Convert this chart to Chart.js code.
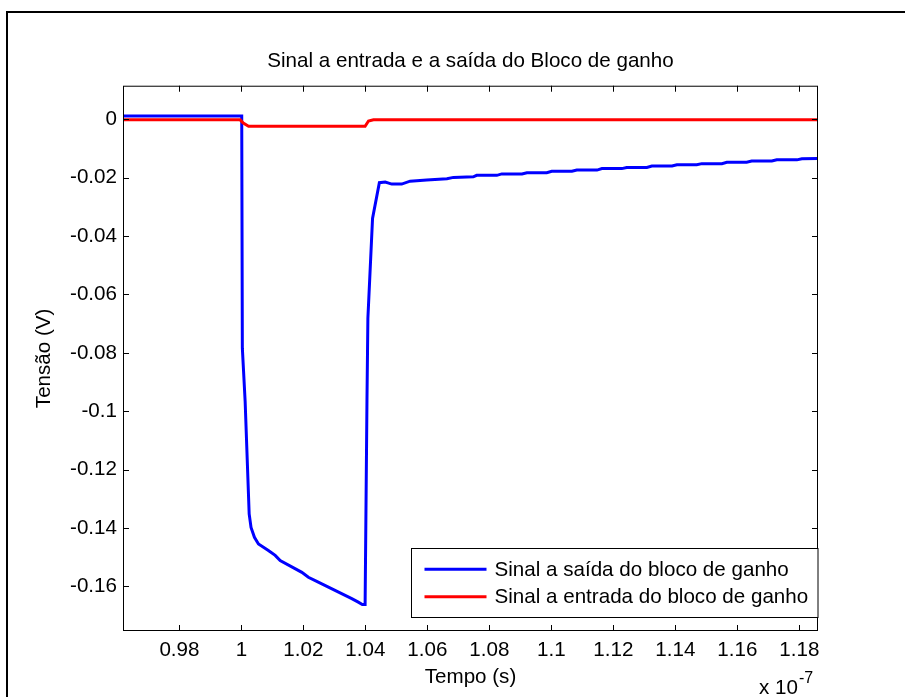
<!DOCTYPE html>
<html>
<head>
<meta charset="utf-8">
<script src="https://cdn.jsdelivr.net/npm/chart.js@4.4.0/dist/chart.umd.min.js"></script>
<style>
  html, body { margin: 0; padding: 0; background: #fff; overflow: hidden; }
  #wrap { position: relative; width: 905px; height: 697px; overflow: hidden; }
  #frame { position: absolute; left: 6px; top: 11px; width: 960px; height: 760px;
           border-left: 2px solid #000; border-top: 2px solid #000; pointer-events: none; }
</style>
</head>
<body>
<div id="wrap">
  <canvas id="gain_chart" width="905" height="697"></canvas>
  <div id="frame"></div>
</div>
<script>
/////////////////////////////////// DATA ///////////////////////////////////
// time in units of 1e-7 s, tension in V
const saida_x = [0.9618, 1.0001, 1.0003, 1.0012, 1.0025, 1.0031, 1.0042, 1.0055, 1.0087, 1.0109, 1.0125,
                 1.0195, 1.0216, 1.0243, 1.0356, 1.0377, 1.0390, 1.0399, 1.0405, 1.0408, 1.0423, 1.0445,
                 1.0464, 1.0485, 1.0517, 1.0544, 1.0598, 1.0663, 1.0684, 1.0748, 1.0759, 1.0824, 1.0840,
                 1.0905, 1.0921, 1.0985, 1.1001, 1.1066, 1.1082, 1.1147, 1.1163, 1.1227, 1.1243, 1.1308,
                 1.1324, 1.1389, 1.1405, 1.1469, 1.1485, 1.1550, 1.1566, 1.1630, 1.1646, 1.1711, 1.1727,
                 1.1792, 1.1808, 1.1860];
const saida_y = [0.0011, 0.0011, -0.0784, -0.0966, -0.1352, -0.1398, -0.1432, -0.1455, -0.1477, -0.1494, -0.1512,
                 -0.1552, -0.1569, -0.1583, -0.1642, -0.1654, -0.1662, -0.1662, -0.0966, -0.0681, -0.0340, -0.0217,
                 -0.0215, -0.0222, -0.0222, -0.0212, -0.0208, -0.0204, -0.0199, -0.0197, -0.0192, -0.0192, -0.0187,
                 -0.0187, -0.0183, -0.0183, -0.0178, -0.0178, -0.0174, -0.0174, -0.0169, -0.0169, -0.0165, -0.0165,
                 -0.0160, -0.0160, -0.0156, -0.0156, -0.0152, -0.0152, -0.0147, -0.0147, -0.0143, -0.0143, -0.0139,
                 -0.0139, -0.0135, -0.0134];

const entrada_x = [0.9618, 0.9996, 1.0006, 1.0023, 1.0399, 1.0410, 1.0426, 1.1860];
const entrada_y = [-0.0002, -0.0002, -0.0013, -0.0024, -0.0024, -0.0006, -0.0002, -0.0002];

const x_ticks = [0.98, 1, 1.02, 1.04, 1.06, 1.08, 1.1, 1.12, 1.14, 1.16, 1.18];
const y_ticks = [0, -0.02, -0.04, -0.06, -0.08, -0.1, -0.12, -0.14, -0.16];

const x_range = [0.9618, 1.186];
const y_range = [-0.1753, 0.0115];

/////////////////////////////////// HELPERS ///////////////////////////////////
const FONT = "'Liberation Sans', Arial, sans-serif";
const FSIZE = 20.6;

function toPoints(xs, ys) {
    return xs.map((x, i) => ({ x: x, y: ys[i] }));
}

function fmt(v) {
    return String(Number(v.toFixed(4)));
}

// box, inward ticks, legend and exponent label like a matlab figure
const matlabAxes = {
    id: 'matlabAxes',
    afterDatasetsDraw(chart) {
        const ctx = chart.ctx;
        const a = chart.chartArea;
        const xs = chart.scales.x;
        const ys = chart.scales.y;
        const len = 6;
        ctx.save();
        ctx.strokeStyle = '#000';
        ctx.lineWidth = 1;
        ctx.strokeRect(a.left + 0.5, a.top + 0.5, a.right - a.left - 1, a.bottom - a.top - 1);
        ctx.beginPath();
        xs.ticks.forEach(t => {
            const px = Math.round(xs.getPixelForValue(t.value)) + 0.5;
            ctx.moveTo(px, a.bottom); ctx.lineTo(px, a.bottom - len);
            ctx.moveTo(px, a.top); ctx.lineTo(px, a.top + len);
        });
        ys.ticks.forEach(t => {
            const py = Math.round(ys.getPixelForValue(t.value)) + 0.5;
            ctx.moveTo(a.left, py); ctx.lineTo(a.left + len, py);
            ctx.moveTo(a.right, py); ctx.lineTo(a.right - len, py);
        });
        ctx.stroke();

        // legend box in the lower right corner
        const sets = chart.data.datasets;
        ctx.font = FSIZE + 'px ' + FONT;
        let textW = 0;
        sets.forEach(s => { textW = Math.max(textW, ctx.measureText(s.label).width); });
        const padL = 13, lineW = 62, gap = 8, padR = 10, rowH = 27.4;
        const boxW = padL + lineW + gap + textW + padR;
        const boxH = 69;
        const bx = Math.round(a.right - boxW) + 0.5;
        const by = Math.round(a.bottom - 14 - boxH) + 0.5;
        ctx.fillStyle = '#fff';
        ctx.fillRect(bx, by, a.right - bx, boxH);
        ctx.strokeRect(bx, by, a.right - bx, boxH);
        const cy = by + boxH / 2;
        sets.forEach((s, i) => {
            const ry = cy + (i - (sets.length - 1) / 2) * rowH;
            ctx.strokeStyle = s.borderColor;
            ctx.lineWidth = 3;
            ctx.beginPath();
            ctx.moveTo(bx + padL, ry);
            ctx.lineTo(bx + padL + lineW, ry);
            ctx.stroke();
            ctx.fillStyle = '#000';
            ctx.textAlign = 'left';
            ctx.textBaseline = 'middle';
            ctx.fillText(s.label, bx + padL + lineW + gap, ry + 1);
        });

        // x 10^-7 multiplier
        ctx.fillStyle = '#000';
        ctx.textBaseline = 'alphabetic';
        ctx.textAlign = 'right';
        ctx.font = FSIZE + 'px ' + FONT;
        ctx.fillText('x 10', a.right - 20, 694);
        ctx.textAlign = 'left';
        ctx.font = '16px ' + FONT;
        ctx.fillText('-7', a.right - 19, 683);
        ctx.restore();
    }
};

/////////////////////////////////// CHART ///////////////////////////////////
Chart.defaults.font.family = FONT;
Chart.defaults.font.size = FSIZE;
Chart.defaults.color = '#000';

const ctx_gain = document.getElementById('gain_chart');

const gain_chart = new Chart(ctx_gain, {
    type: 'line',
    data: {
        datasets: [
            {
                label: 'Sinal a saída do bloco de ganho',
                data: toPoints(saida_x, saida_y),
                borderColor: '#0000ff',
                borderWidth: 3,
                pointRadius: 0,
                tension: 0,
                fill: false,
                order: 1
            },
            {
                label: 'Sinal a entrada do bloco de ganho',
                data: toPoints(entrada_x, entrada_y),
                borderColor: '#ff0000',
                borderWidth: 3,
                pointRadius: 0,
                tension: 0,
                fill: false,
                order: 0
            }
        ]
    },
    options: {
        responsive: false,
        animation: false,
        devicePixelRatio: 1,
        layout: { padding: { left: 0, right: 87, top: 0, bottom: 0 } },
        plugins: {
            legend: { display: false },
            tooltip: { enabled: false },
            title: {
                display: true,
                fullSize: false,
                text: 'Sinal a entrada e a saída do Bloco de ganho',
                font: { size: FSIZE, weight: 'normal' },
                color: '#000',
                padding: { top: 49, bottom: 12 }
            }
        },
        scales: {
            x: {
                type: 'linear',
                min: x_range[0],
                max: x_range[1],
                grid: { display: false, drawTicks: false },
                border: { display: false },
                ticks: {
                    stepSize: 0.02,
                    maxTicksLimit: 30,
                    includeBounds: false,
                    autoSkip: false,
                    maxRotation: 0,
                    padding: 7,
                    callback: (v) => x_ticks.some(t => Math.abs(t - v) < 1e-6) ? fmt(v) : ''
                },
                title: { display: true, text: 'Tempo (s)', padding: { top: 0, bottom: 7 } },
                afterFit: (scale) => { scale.height = 66; }
            },
            y: {
                type: 'linear',
                min: y_range[0],
                max: y_range[1],
                grid: { display: false, drawTicks: false },
                border: { display: false },
                ticks: {
                    stepSize: 0.02,
                    maxTicksLimit: 30,
                    includeBounds: false,
                    autoSkip: false,
                    padding: 6,
                    callback: (v) => y_ticks.some(t => Math.abs(t - v) < 1e-6) ? fmt(v) : ''
                },
                title: { display: true, text: 'Tensão (V)', padding: { top: 32, bottom: 0 } },
                afterFit: (scale) => { scale.width = 123; }
            }
        }
    },
    plugins: [matlabAxes]
});
</script>
</body>
</html>
